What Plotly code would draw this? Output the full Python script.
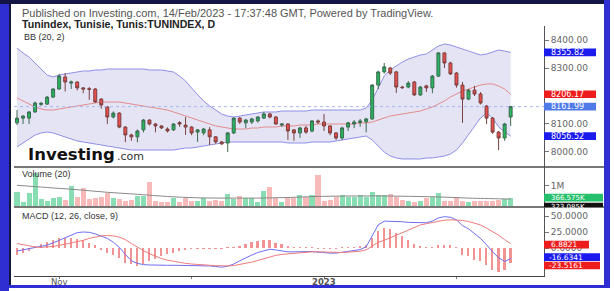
import plotly.graph_objects as go
import pandas as pd

W, H = 614, 291

# ---------------- data ----------------
sessions = pd.bdate_range("2022-10-21", "2023-02-14")  # 83 daily sessions
dates = [d.strftime("%Y-%m-%d") for d in sessions]

open_ = [8104, 8121, 8121, 8143, 8170, 8171, 8196, 8225, 8268, 8246,
         8250, 8229, 8226, 8225, 8189, 8161, 8125, 8139, 8089, 8061,
         8054, 8079, 8114, 8100, 8093, 8082, 8079, 8105, 8096, 8089,
         8071, 8068, 8079, 8054, 8036, 8032, 8068, 8121, 8104, 8107,
         8111, 8121, 8136, 8125, 8096, 8100, 8079, 8068, 8086, 8075,
         8111, 8107, 8093, 8068, 8050, 8089, 8100, 8105, 8108, 8118,
         8239, 8286, 8300, 8286, 8232, 8232, 8250, 8204, 8236, 8229,
         8271, 8354, 8318, 8282, 8239, 8189, 8221, 8207, 8164, 8121,
         8071, 8050, 8125]
high = [8150, 8132, 8146, 8180, 8178, 8200, 8228, 8279, 8282, 8255,
        8252, 8232, 8232, 8228, 8192, 8164, 8145, 8142, 8092, 8065,
        8080, 8118, 8117, 8103, 8095, 8088, 8103, 8110, 8125, 8092,
        8082, 8086, 8089, 8057, 8039, 8071, 8124, 8125, 8118, 8122,
        8128, 8143, 8140, 8128, 8103, 8103, 8082, 8090, 8093, 8114,
        8116, 8136, 8096, 8071, 8090, 8108, 8114, 8118, 8122, 8242,
        8290, 8318, 8304, 8290, 8236, 8253, 8254, 8236, 8240, 8275,
        8356, 8356, 8322, 8286, 8250, 8225, 8236, 8214, 8168, 8125,
        8075, 8104, 8165]
low = [8096, 8100, 8100, 8140, 8165, 8168, 8193, 8222, 8216, 8225,
       8220, 8210, 8186, 8175, 8155, 8100, 8120, 8085, 8035, 8040,
       8035, 8070, 8095, 8070, 8082, 8070, 8075, 8090, 8061, 8060,
       8036, 8060, 8025, 8030, 8025, 8000, 8064, 8100, 8085, 8100,
       8105, 8118, 8120, 8098, 8090, 8043, 8040, 8050, 8065, 8070,
       8100, 8075, 8060, 8043, 8043, 8075, 8085, 8090, 8070, 8115,
       8225, 8280, 8275, 8211, 8225, 8228, 8200, 8200, 8215, 8210,
       8268, 8300, 8275, 8230, 8104, 8185, 8200, 8170, 8100, 8065,
       8007, 8040, 8093]
close = [8121, 8128, 8143, 8175, 8174, 8196, 8225, 8271, 8250, 8250,
         8229, 8225, 8224, 8179, 8168, 8125, 8139, 8089, 8061, 8054,
         8075, 8114, 8100, 8093, 8086, 8075, 8100, 8100, 8089, 8068,
         8079, 8082, 8054, 8036, 8029, 8068, 8121, 8107, 8114, 8118,
         8125, 8136, 8125, 8100, 8100, 8075, 8068, 8086, 8071, 8111,
         8107, 8093, 8068, 8050, 8086, 8104, 8107, 8111, 8118, 8239,
         8286, 8304, 8282, 8232, 8230, 8246, 8204, 8232, 8229, 8271,
         8354, 8318, 8279, 8239, 8189, 8221, 8207, 8175, 8121, 8071,
         8050, 8100, 8161.99]

bb_upper = [8371.4, 8353.6, 8339.3, 8317.9, 8292.9, 8275.0, 8267.9, 8275.0, 8278.6, 8282.1,
            8285.7, 8289.3, 8289.3, 8292.9, 8292.9, 8296.4, 8296.4, 8296.4, 8296.4, 8296.4,
            8296.4, 8296.4, 8292.9, 8292.9, 8292.9, 8289.3, 8285.7, 8271.4, 8253.6, 8228.6,
            8203.6, 8182.1, 8164.3, 8150.0, 8135.7, 8128.6, 8125.0, 8128.6, 8132.1, 8135.7,
            8139.3, 8142.9, 8142.9, 8142.9, 8146.4, 8146.4, 8146.4, 8146.4, 8146.4, 8150.0,
            8150.0, 8150.0, 8150.0, 8150.0, 8150.0, 8150.0, 8150.0, 8150.0, 8157.1, 8185.7,
            8228.6, 8271.4, 8292.9, 8307.1, 8321.4, 8332.1, 8339.3, 8346.4, 8350.0, 8364.3,
            8378.6, 8385.7, 8382.1, 8375.0, 8367.9, 8360.7, 8353.6, 8346.4, 8350.0, 8357.1,
            8364.3, 8360.7, 8355.82]
bb_basis = [8192.9, 8182.1, 8171.4, 8160.7, 8153.6, 8150.0, 8150.0, 8153.6, 8157.1, 8160.7,
            8164.3, 8167.9, 8171.4, 8175.0, 8178.6, 8178.6, 8178.6, 8178.6, 8175.0, 8171.4,
            8167.9, 8164.3, 8160.7, 8157.1, 8153.6, 8150.0, 8142.9, 8135.7, 8128.6, 8121.4,
            8114.3, 8107.1, 8100.0, 8092.9, 8089.3, 8085.7, 8082.1, 8082.1, 8082.1, 8085.7,
            8085.7, 8089.3, 8089.3, 8089.3, 8092.9, 8092.9, 8092.9, 8096.4, 8096.4, 8096.4,
            8100.0, 8100.0, 8100.0, 8100.0, 8100.0, 8100.0, 8100.0, 8103.6, 8103.6, 8107.1,
            8114.3, 8121.4, 8128.6, 8132.1, 8135.7, 8139.3, 8142.9, 8146.4, 8153.6, 8160.7,
            8171.4, 8182.1, 8196.4, 8207.1, 8217.9, 8225.0, 8232.1, 8239.3, 8242.9, 8242.9,
            8235.7, 8225.0, 8206.17]
bb_lower = [8017.9, 8032.1, 8046.4, 8060.7, 8067.9, 8071.4, 8067.9, 8060.7, 8053.6, 8046.4,
            8039.3, 8035.7, 8032.1, 8028.6, 8025.0, 8021.4, 8017.9, 8014.3, 8010.7, 8007.1,
            8007.1, 8007.1, 8007.1, 8007.1, 8007.1, 8007.1, 8007.1, 8010.7, 8014.3, 8014.3,
            8017.9, 8021.4, 8025.0, 8028.6, 8032.1, 8035.7, 8035.7, 8035.7, 8035.7, 8035.7,
            8035.7, 8035.7, 8035.7, 8035.7, 8035.7, 8032.1, 8032.1, 8032.1, 8032.1, 8035.7,
            8035.7, 8035.7, 8035.7, 8039.3, 8042.9, 8046.4, 8050.0, 8053.6, 8057.1, 8042.9,
            8021.4, 8000.0, 7985.7, 7978.6, 7975.0, 7975.0, 7975.0, 7975.0, 7978.6, 7978.6,
            7982.1, 7985.7, 7992.9, 8007.1, 8032.1, 8060.7, 8089.3, 8121.4, 8139.3, 8121.4,
            8089.3, 8071.4, 8056.52]

volume_k = [667, 167, 633, 1633, 333, 250, 383, 417, 300, 1000,
            417, 883, 350, 383, 417, 633, 367, 333, 217, 300,
            467, 467, 1167, 217, 167, 167, 383, 167, 383, 250,
            217, 383, 250, 300, 217, 583, 333, 467, 383, 383,
            167, 717, 917, 367, 167, 433, 383, 550, 417, 550,
            1550, 250, 300, 433, 550, 417, 417, 550, 417, 683,
            550, 550, 583, 417, 300, 250, 167, 250, 383, 417,
            633, 250, 250, 417, 250, 167, 250, 250, 250, 250,
            300, 333, 366.575]
vol_ma_idx = [0, 5, 10, 15, 20, 25, 30, 35, 40, 45, 50, 55, 60, 65, 70, 75, 80, 82]
vol_ma_k = [1010, 900, 790, 660, 560, 450, 385, 370, 370, 400, 455, 475, 480, 460, 430, 370, 335, 323.085]

macd = [-4.7, -3, -1, 1, 2.5, 4.5, 8, 12, 17, 21,
        24, 25, 24.5, 22, 19, 15, 9, 1, -10, -20,
        -24, -26, -26.5, -27, -27, -27, -27, -27, -27.5, -27.5,
        -27.5, -27.5, -28, -29, -30, -28.5, -25, -20, -15, -11,
        -7, -4, -2, -3, -5, -6, -6, -5.5, -5.5, -5.5,
        -6.5, -7.5, -8, -8, -6.5, -5, -4, -2.5, 2, 20,
        36, 42, 42, 42, 41, 40, 39.5, 39, 39.5, 42,
        47, 49, 48, 44, 35, 30, 22, 15, 5, -6,
        -15, -21, -16.6341]
signal = [7, 5, 3, 1.5, 1, 1.5, 2.5, 4, 6, 8,
          9.5, 12, 15, 17.5, 19, 19.5, 19, 17, 13, 7,
          1, -4, -9, -13, -16.5, -19, -21, -22.5, -24, -25,
          -26, -26.5, -27, -27.5, -28, -28, -27.5, -26, -24, -22,
          -19.5, -16.5, -14, -11.5, -10, -9, -8, -7, -6.5, -6,
          -6, -6.5, -7, -7, -7, -6.5, -6, -5, -3, 3,
          9, 12, 16, 21, 25, 29, 33, 36, 38, 40,
          42, 43.5, 44, 44, 43, 41.5, 39, 36, 31, 26,
          20, 13, 6.8821]
hist = [-11, -8, -4, 3, 5.7, 9.4, 12.5, 16, 16, 16,
        14.6, 12.5, 8.3, 5.2, -3, -8, -11.5, -15, -23, -25.5,
        -28, -25.5, -20, -17.7, -12.5, -10, -7.3, -4.7, -3, -1,
        -0.8, -0.5, -0.5, -1, -1, 0.5, 1, 3, 5.7, 9.4,
        11, 12.5, 12.5, 8.3, 5.7, 2, 0.5, 0.5, 0.5, 0.5,
        -0.5, -0.5, -0.5, -0.5, 0.5, 0.5, 1, 2, 4, 16,
        26.5, 31.8, 30, 24, 18.75, 12.5, 5.7, 2, 0.5, 0.5,
        4, 5, 4, 0.5, -11, -13, -19, -20.5, -26, -33.6,
        -37, -35, -23.5161]

tick_idx = [7, 29, 51, 73]
tick_text = ["Nov", "", "<b>2023</b>", ""]
price_ticks = [8000, 8100, 8300, 8400]
macd_ticks = [0, 25, 50]

# ---------------- styling ----------------
UP, DOWN = "#27b45e", "#ea4e4b"
VOL_UP, VOL_DOWN = "#88ddb2", "#f8b9b9"
BAND_LINE, BAND_FILL, BASIS = "#8f8fe8", "#e4e4f5", "#e58c8c"
MACD_C, SIG_C, HIST_C = "#6e6ef0", "#f07b7b", "#f19393"
BLUE_B, RED_B, LBLUE_B, GREEN_B, BLACK_B = "#1b1bee", "#ee1d1d", "#4f7be8", "#25c06b", "#111111"
AXIS_FONT = dict(family="DejaVu Sans", size=9, color="#666666")
PRICE_RANGE = [7946.4, 8450]

x = list(range(len(dates)))

def px(v):
    return v / W

def py(v):
    return 1 - v / H

fig = go.Figure()

# Bollinger bands (base price axis)
fig.add_trace(go.Scatter(x=x, y=bb_upper, mode="lines", line=dict(color=BAND_LINE, width=1),
                         hoverinfo="skip", showlegend=False))
fig.add_trace(go.Scatter(x=x, y=bb_lower, mode="lines", line=dict(color=BAND_LINE, width=1),
                         fill="tonexty", fillcolor=BAND_FILL, hoverinfo="skip", showlegend=False))
fig.add_trace(go.Scatter(x=x, y=bb_basis, mode="lines", line=dict(color=BASIS, width=1),
                         hoverinfo="skip", showlegend=False))

# candles on an overlaying copy of the price axis so they sit above the band fill
fig.add_trace(go.Candlestick(
    x=x, open=open_, high=high, low=low, close=close, text=dates,
    increasing=dict(fillcolor=UP, line=dict(color="#3c6a50", width=1)),
    decreasing=dict(fillcolor=DOWN, line=dict(color="#7a4040", width=1)),
    whiskerwidth=0, showlegend=False, xaxis="x", yaxis="y4"))

# volume
vol_colors = [VOL_UP if c >= o else VOL_DOWN for o, c in zip(open_, close)]
fig.add_trace(go.Bar(x=x, y=volume_k, marker=dict(color=vol_colors, line=dict(width=0)),
                     width=0.84, yaxis="y2", showlegend=False, hoverinfo="skip"))
fig.add_trace(go.Scatter(x=vol_ma_idx, y=vol_ma_k, mode="lines",
                         line=dict(color="#8a8a8a", width=1, shape="spline"),
                         yaxis="y2", showlegend=False, hoverinfo="skip"))

# MACD
fig.add_trace(go.Bar(x=x, y=hist, marker=dict(color=HIST_C, line=dict(width=0)), width=0.3,
                     yaxis="y3", showlegend=False, hoverinfo="skip"))
fig.add_trace(go.Scatter(x=x, y=macd, mode="lines", line=dict(color=MACD_C, width=1),
                         yaxis="y3", showlegend=False, hoverinfo="skip"))
fig.add_trace(go.Scatter(x=x, y=signal, mode="lines", line=dict(color=SIG_C, width=1),
                         yaxis="y3", showlegend=False, hoverinfo="skip"))

X0, X1 = 14, 544
yax_common = dict(side="right", anchor="x", showline=True, linecolor="#555555", linewidth=1,
                  ticks="outside", ticklen=4, tickcolor="#777777", showgrid=False, zeroline=False,
                  tickfont=AXIS_FONT, fixedrange=True)

fig.update_layout(
    width=W, height=H, margin=dict(l=0, r=0, t=0, b=0),
    paper_bgcolor="white", plot_bgcolor="white",
    font=dict(family="Liberation Sans, Arial", color="#333"),
    showlegend=False, bargap=0,
    xaxis=dict(domain=[px(X0), px(X1)], range=[-0.5, 87.54], anchor="y3",
               showline=True, linecolor="#444444", linewidth=1.2, ticks="outside", ticklen=2,
               tickcolor="#777777", tickvals=tick_idx, ticktext=["" for _ in tick_idx], showgrid=False,
               zeroline=False, rangeslider=dict(visible=False), fixedrange=True),
    yaxis=dict(domain=[py(167), py(26)], range=PRICE_RANGE, tickvals=price_ticks,
               tickformat=".2f", **yax_common),
    yaxis4=dict(overlaying="y", anchor="x", range=PRICE_RANGE, visible=False, fixedrange=True),
    yaxis2=dict(domain=[py(207), py(167)], range=[-75, 1925], tickvals=[1000], ticktext=["1M"],
                **yax_common),
    yaxis3=dict(domain=[py(276), py(207)], range=[-43.75, 64.06], tickvals=macd_ticks,
                tickformat=".4f", **yax_common),
)

shapes = []
# last price dotted line
shapes.append(dict(type="line", xref="paper", yref="y", x0=px(X0), x1=px(X1), y0=close[-1], y1=close[-1],
                   line=dict(color="#a9b6f2", width=1, dash="dot"), layer="above"))
# panel separators
for yy in (167, 207):
    shapes.append(dict(type="line", xref="paper", yref="paper", x0=px(X0), x1=px(604), y0=py(yy), y1=py(yy),
                       line=dict(color="#4a4a4a", width=1.5), layer="above"))

annotations = []

# date labels under the time axis
for t, s in zip(tick_idx, tick_text):
    if s:
        annotations.append(dict(x=t, y=py(281.5), xref="x", yref="paper", xanchor="center", yanchor="middle",
                                text=s, showarrow=False, borderpad=0,
                                font=dict(family="DejaVu Sans", size=8.5, color="#555555")))

def badge(value, yref, text, color, width, shift=0, tx=550, size=8):
    shapes.append(dict(type="rect", xref="paper", yref=yref, x0=px(544), x1=px(544 + width),
                       ysizemode="pixel", yanchor=value, y0=-3.8 + shift, y1=3.8 + shift,
                       fillcolor=color, line=dict(width=0), layer="above"))
    annotations.append(dict(x=px(tx), y=value, xref="paper", yref=yref, yshift=shift, xanchor="left",
                            yanchor="middle", text=text, showarrow=False, borderpad=0,
                            font=dict(family="DejaVu Sans", size=size, color="white")))

badge(bb_upper[-1], "y", f"{bb_upper[-1]:.2f}", BLUE_B, 52)
badge(bb_basis[-1], "y", f"{bb_basis[-1]:.2f}", RED_B, 52)
badge(close[-1], "y", f"{close[-1]:.2f}", LBLUE_B, 52)
badge(bb_lower[-1], "y", f"{bb_lower[-1]:.2f}", BLUE_B, 52)
badge(volume_k[-1], "y2", f"{volume_k[-1]:.3f}K", GREEN_B, 59, shift=0.5, size=7)
badge(vol_ma_k[-1], "y2", f"{vol_ma_k[-1]:.3f}K", BLACK_B, 59, shift=-7.5, size=7)
badge(signal[-1], "y3", f"{signal[-1]:.4f}", RED_B, 45, shift=-1.0, size=7.5)
badge(macd[-1], "y3", f"{macd[-1]:.4f}", BLUE_B, 56, shift=1.5, tx=548, size=7.5)
badge(hist[-1], "y3", f"{hist[-1]:.4f}", RED_B, 56, shift=-2.5, tx=548, size=7.5)

# frame (outside the plotting areas, so it can sit under the texts)
FRAME_BLUE = "#2e2ed2"
shapes += [
    dict(type="rect", xref="paper", yref="paper", x0=0, x1=px(9), y0=0, y1=1, fillcolor=FRAME_BLUE,
         line=dict(width=0), layer="below"),
    dict(type="rect", xref="paper", yref="paper", x0=px(9), x1=px(11), y0=py(288), y1=1, fillcolor="#15153a",
         line=dict(width=0), layer="below"),
    dict(type="rect", xref="paper", yref="paper", x0=0, x1=px(610), y0=py(4), y1=1, fillcolor="#151545",
         line=dict(width=0), layer="below"),
    dict(type="rect", xref="paper", yref="paper", x0=px(604), x1=px(610), y0=py(288), y1=1,
         fillcolor=FRAME_BLUE, line=dict(width=0), layer="below"),
    dict(type="rect", xref="paper", yref="paper", x0=0, x1=px(610), y0=py(288), y1=py(285),
         fillcolor=FRAME_BLUE, line=dict(width=0), layer="below"),
]

def label(xp, yp, text, size, color="#333333", family="Liberation Sans, Arial"):
    annotations.append(dict(x=px(xp), y=py(yp), xref="paper", yref="paper", xanchor="left", yanchor="middle",
                            text=text, showarrow=False, borderpad=0,
                            font=dict(family=family, size=size, color=color)))

label(21, 13, "Published on Investing.com, 14/Feb/2023 - 17:37:48 GMT, Powered by TradingView.", 11, "#555555")
label(21, 24, "<b>Tunindex, Tunisie, Tunis:TUNINDEX, D</b>", 10.6, "#222222")
label(23, 37, "BB (20, 2)", 9, "#333333")
label(21, 174, "Volume (20)", 9, "#333333")
label(21, 216, "MACD (12, 26, close, 9)", 9, "#333333")
label(27, 154, "<b>Investing</b>", 16.5, "#111111", "DejaVu Sans")
label(116, 156.5, ".com", 11, "#333333", "DejaVu Sans")

fig.update_layout(shapes=shapes, annotations=annotations)
fig.write_html("out.html")
